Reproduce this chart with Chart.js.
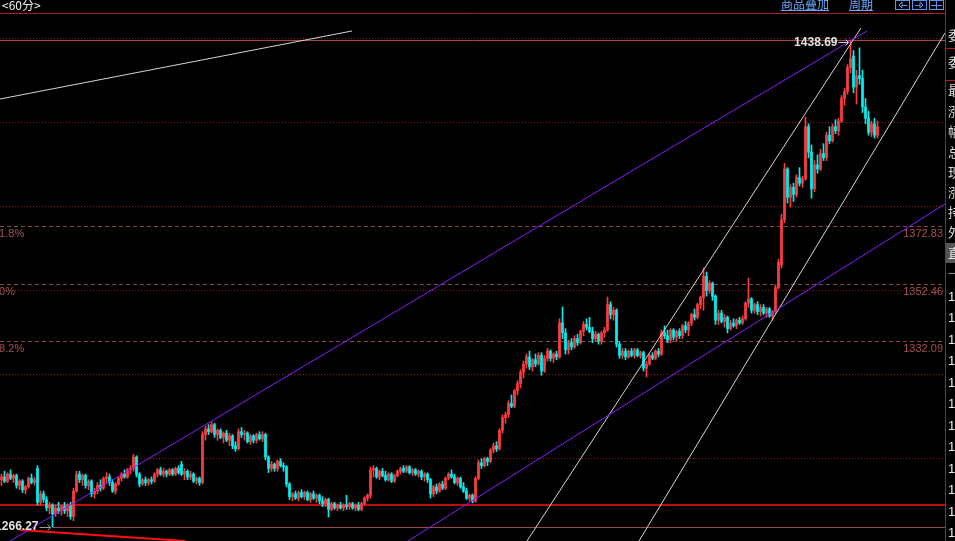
<!DOCTYPE html>
<html><head><meta charset="utf-8">
<script src="https://cdn.jsdelivr.net/npm/chart.js@4.4.0/dist/chart.umd.min.js"></script>
<style>html,body{margin:0;padding:0;background:#000;overflow:hidden}canvas{display:block}</style>
</head><body><canvas id="c" width="955" height="541"></canvas>
<script>
// ---- data (60-minute candles) ----
const opens = [
1283,1284,1282.5,1285,1283.5,1284.5,1281,1282.5,1279.5,1280.5,
1283.5,1282,1287,1275,1278,1276,1273,1274,1271,1273,
1272,1273.5,1272,1274,1270,1279,1285,1283,1284.5,1281,
1282.5,1278,1279,1281,1280,1283.5,1284,1282,1279,1281.5,
1283.5,1285,1284,1286.5,1287,1291,1285,1281.5,1283,1282,
1283,1282.5,1285,1286.5,1285,1286,1285,1286.5,1285,1287,
1288.5,1285,1286,1284,1285,1282.5,1283.5,1282,1299,1301,
1300,1302.5,1299,1300.5,1298,1299.5,1297,1298.5,1295,1294,
1300,1299,1299.5,1296.5,1298.5,1297,1299,1297.5,1299,1291,
1287,1288.5,1287,1289.5,1288,1287.5,1281.5,1277,1278,1276.5,
1278.5,1277,1278.5,1276,1278,1276.5,1277.5,1275.5,1274.5,1276,
1272.5,1274.5,1273,1274,1273,1274,1273.5,1274.5,1273,1274,
1272.5,1274.5,1276.5,1277.5,1286.5,1287,1284,1286,1284.5,1283,
1285,1282.5,1284.5,1286,1287,1286,1287.5,1285.5,1286.5,1285,
1286,1284,1285,1283,1278,1280.5,1279,1281.5,1280,1283.5,
1285,1284,1282,1283.5,1280.5,1279,1276.5,1277.5,1275.5,1283.5,
1289,1288,1290.5,1289.5,1293.5,1295,1294,1300.5,1305,1306,
1310,1309,1314.5,1317,1321,1324,1326.5,1323,1325.5,1324,
1327,1321.5,1326,1328.5,1326,1327.5,1326.5,1338.5,1335,1329,
1331.5,1330,1333,1331.5,1335.5,1338,1337,1335.5,1333,1334.5,
1332,1335,1336,1345,1341.5,1343,1331,1327,1328.5,1326.5,
1328.5,1327,1329,1327,1328,1322.5,1324,1327,1326,1328.5,
1327.5,1335,1334,1332.5,1336,1333.5,1335.5,1334,1337.5,1336,
1338.5,1341.5,1340.5,1345,1347.5,1355,1350,1352.5,1348,1339.5,
1342,1339,1340.5,1336.5,1338.5,1337.5,1339.5,1338.5,1340,1345.5,
1347,1343,1345,1342.5,1344,1342,1343.5,1341,1342.5,1351,
1359,1375,1393,1383,1386.5,1384,1390,1388,1389.5,1408,
1399,1386,1394.5,1393,1398.5,1397,1405,1403,1408,1406.5,
1410,1418,1420.5,1429,1433,1422,1426,1425,1415,1411,
1406,1409,1405];
const highs = [
1285,1286,1285.5,1286.5,1285,1285,1283,1283,1281,1284,
1285,1284,1288,1279,1279,1277,1275,1274.5,1274,1275,
1274,1275,1274.5,1275,1280,1286,1286,1285,1285,1283,
1283,1280,1282,1283,1284,1285.5,1285,1283,1282,1284,
1285.5,1286.5,1287,1288,1292,1291.5,1285.5,1283.5,1284,1283.5,
1284,1285.5,1287,1287.5,1287,1286.5,1287,1287,1287.5,1288,
1289.5,1287,1286.5,1286,1285.5,1284,1284,1300,1302,1302.5,
1303.5,1303,1301,1301,1300,1300.5,1299.5,1299,1296.5,1301,
1301.5,1300.5,1300,1299,1299,1299.5,1300,1300,1299.5,1291.5,
1289.5,1289,1290,1290.5,1289,1288,1282,1278.5,1279,1279,
1279.5,1279,1279,1278.5,1279,1278,1278,1277,1276.5,1276.5,
1275,1275,1274.5,1275,1274.5,1277.5,1275,1275,1274.5,1275,
1275,1277,1278,1287.5,1288,1287.5,1286.5,1287,1286,1285.5,
1285.5,1285,1286.5,1287.5,1288,1288,1288,1287,1287,1286.5,
1286.5,1285.5,1285.5,1283.5,1281,1281.5,1282,1282.5,1284,1285.5,
1286.5,1285,1284,1284,1282,1280,1278,1278,1284,1290,
1290.5,1291,1291,1294,1296,1296.5,1301,1306,1307,1311,
1313,1315,1318,1322,1325,1327.5,1328.5,1326,1327.5,1328,
1328,1327,1329.5,1329,1328,1328.5,1340,1344.2,1336.5,1332.5,
1333,1334,1334.5,1336,1339,1340,1340.5,1337,1335.5,1335,
1335.5,1337,1347.7,1346,1344,1343.5,1332,1329.5,1329.5,1329,
1329.5,1329.5,1329.5,1328.5,1328.5,1325,1327.5,1328,1329,1329.5,
1336,1337.5,1336,1336.5,1336.5,1336,1336.5,1338,1339,1339,
1342,1343.5,1345.5,1348,1358,1356.5,1353.5,1353,1348.5,1343,
1343,1341.5,1341,1339.5,1340,1340,1340.5,1341,1346,1354.4,
1347.5,1345.5,1346,1345,1345,1344,1344,1343,1352,1361,
1377,1395,1393.5,1387.5,1388,1391,1393.5,1390.5,1411.4,1409,
1401.5,1396,1398,1400,1402,1406,1408,1409,1410.5,1411,
1419,1421.5,1430,1438.69,1435,1428,1435.9,1428,1418,1413.5,
1410,1411,1410];
const lows = [
1281,1282,1282,1283,1282,1280,1279.5,1278.5,1278,1280,
1281.5,1281,1274,1274,1275,1272,1271,1266.27,1270,1271,
1270.5,1271,1270,1269,1268.5,1278.5,1282,1281,1280,1279.5,
1277,1276.5,1278,1279,1279.5,1282,1281,1278.5,1278,1281,
1282.5,1283.5,1283.5,1285,1286,1284,1280.5,1281,1281,1281,
1281.5,1282,1284,1284.5,1284,1284,1284.5,1284.5,1284.5,1285,
1284.5,1283,1283,1283,1282,1281.5,1281,1281.5,1297,1299,
1299.5,1298,1297,1297.5,1296,1296.5,1295,1294,1293,1293.5,
1298,1297,1296,1295.5,1296,1296,1297,1296.5,1290,1285.5,
1286,1286,1286,1287.5,1286,1280.5,1276,1275.5,1276,1275.5,
1276.5,1276,1275.5,1275,1276,1275,1274.5,1273.5,1273.5,1269.8,
1272,1272.5,1272,1272.5,1272,1272.5,1272.5,1272.5,1272,1272,
1272,1274,1275.5,1276.5,1284,1283.5,1283,1284,1282.5,1282.5,
1282,1282,1284,1285,1285.5,1285.5,1285,1284.5,1284.5,1284,
1283,1282.5,1282,1276.5,1277,1278,1278.5,1279.5,1279.5,1283,
1283.5,1281.5,1281,1280,1278.5,1276,1275.5,1274.8,1275,1283,
1287,1287.5,1288,1289,1292.5,1293,1293.5,1299.5,1303,1305,
1308.5,1308.5,1313,1315.5,1319,1322.5,1322,1321.5,1323,1323.5,
1320,1321,1325,1325,1324.5,1325.5,1326,1333,1327.5,1327.5,
1329,1329.5,1330.5,1331,1334,1336,1335,1331.5,1332,1331,
1331,1333.5,1335.5,1340,1339.5,1330,1326,1326,1325.5,1326,
1326.5,1326,1326.5,1326,1321.5,1319.4,1323.5,1325.5,1325.5,1326.5,
1327,1333,1331.5,1331.5,1332.5,1332,1333,1333,1335,1334,
1337.5,1339.5,1340,1343.5,1343,1348,1349,1346.5,1338,1338,
1338.5,1337,1335,1336,1337,1336.5,1338,1338,1339.5,1344,
1342,1342,1341.5,1341,1341.5,1340.5,1340.5,1339.5,1342,1350.5,
1358,1374,1381,1379.5,1381.5,1383,1387,1386.5,1389,1397,
1382.7,1385,1391.5,1392.5,1396,1396,1402,1402.5,1405.5,1405,
1409.5,1415.5,1419.5,1427,1420,1416,1423,1413,1409,1405,
1404.5,1404,1404];
const closes = [
1284,1282.5,1285,1283.5,1284.5,1281,1282.5,1279.5,1280.5,1283.5,
1282,1283,1275,1278,1276,1273,1274,1271,1273,1272,
1273.5,1272,1274,1270,1279,1285,1283,1284.5,1281,1282.5,
1278,1279,1281,1280,1283.5,1284,1282,1279,1281.5,1283.5,
1285,1284,1286.5,1287,1291,1285,1281.5,1283,1282,1283,
1282.5,1285,1286.5,1285,1286,1285,1286.5,1285,1287,1285.5,
1285,1286,1284,1285,1282.5,1283.5,1282,1299,1301,1300,
1302.5,1299,1300.5,1298,1299.5,1297,1298.5,1295,1294,1300,
1299,1299.5,1296.5,1298.5,1297,1299,1297.5,1299,1291,1287,
1288.5,1287,1289.5,1288,1287.5,1281.5,1277,1278,1276.5,1278.5,
1277,1278.5,1276,1278,1276.5,1277.5,1275.5,1274.5,1276,1272.5,
1274.5,1273,1274,1273,1274,1273.5,1274.5,1273,1274,1272.5,
1274.5,1276.5,1277.5,1286.5,1287,1284,1286,1284.5,1283,1285,
1282.5,1284.5,1286,1287,1286,1287.5,1285.5,1286.5,1285,1286,
1284,1285,1283,1278,1280.5,1279,1281.5,1280,1283.5,1285,
1284,1282,1283.5,1280.5,1279,1276.5,1277.5,1275.5,1283.5,1289,
1288,1290.5,1289.5,1293.5,1295,1294,1300.5,1305,1306,1310,
1309,1314.5,1317,1321,1324,1326.5,1323,1325.5,1324,1327,
1321.5,1326,1328.5,1326,1327.5,1326.5,1338.5,1335,1329,1331.5,
1330,1333,1331.5,1335.5,1338,1337,1335.5,1333,1334.5,1332,
1335,1336,1345,1341.5,1343,1331,1327,1328.5,1326.5,1328.5,
1327,1329,1327,1328,1322.5,1324,1327,1326,1328.5,1327.5,
1335,1334,1332.5,1336,1333.5,1335.5,1334,1337.5,1336,1338.5,
1341.5,1340.5,1345,1347.5,1355,1350,1352.5,1348,1339.5,1342,
1339,1340.5,1336.5,1338.5,1337.5,1339.5,1338.5,1340,1345.5,1347,
1343,1345,1342.5,1344,1342,1343.5,1341,1342.5,1351,1360,
1375,1393,1383,1386.5,1384,1390,1388,1389.5,1408,1399,
1386,1394.5,1393,1398.5,1397,1405,1403,1408,1406.5,1410,
1418,1420.5,1429,1432,1422,1426,1425,1415,1411,1406,
1409,1405,1408];

// horizontal levels & labels
const highValue = 1438.69, lowValue = 1266.27;
const gridLevels = [1439.40, 1409.66, 1379.92, 1350.18, 1320.44, 1290.70];
const fibLevels = [1372.83, 1352.46, 1332.09];
const fibPctLabels = ['61.8%', '50%', '38.2%'];
const fibValueLabels = ['1372.83', '1352.46', '1332.09'];
const supportLevel = 1274.06;

// drawn trend lines: [barIndex, price] end points
const whiteTopLeft   = [[-0.5, 1417.80], [116.83, 1441.88]];
const purpleUpper    = [[-0.5, 1259.19], [288.5, 1441.88]];
const purpleLower    = [[135.5, 1261.31], [314.5, 1380.63]];
const whiteSteepA    = [[175.17, 1261.31], [286.5, 1442.94]];
const whiteSteepB    = [[212.5, 1261.31], [314.5, 1441.17]];
const redLowLeft     = [[6.17, 1265.21], [61.17, 1261.31]];

// header / side panel text
const periodLabel = '<60分>';
const headerLinks = ['商品叠加', '周期'];
const sideChars = ['委','委','最','涨','幅','总','现','涨','持','外'];
const sideCharY = [35,62,90,111,131,152,172,192,212,232];
const sideTicks = ['1408.0','1407.5','1408.5','1409.0','1408.0','1407.0','1406.5','1408.0','1409.5','1408.5','1407.5','1408.0'];

// ---- build ----
const N = Math.min(opens.length, highs.length, lows.length, closes.length);
const idx = Array.from({length: N}, (_, i) => i);
const UP = '#ff3c3c', DN = '#00f0f0';
const colors = idx.map(i => closes[i] >= opens[i] ? UP : DN);
const wickData = idx.map(i => ({x: i, y: [lows[i], highs[i]]}));
const bodyData = idx.map(i => ({x: i, y: [opens[i], closes[i]]}));
let hiIdx = 0, loIdx = 0;
idx.forEach(i => { if (highs[i] > highs[hiIdx]) hiIdx = i; if (lows[i] < lows[loIdx]) loIdx = i; });

const pts = a => a.map(p => ({x: p[0], y: p[1]}));
const lineDs = (a, color, w) => ({type: 'line', data: pts(a), borderColor: color, borderWidth: w || 1,
  pointRadius: 0, fill: false, tension: 0, order: 0});

function hline(c, x1, x2, y) { c.beginPath(); c.moveTo(x1, y); c.lineTo(x2, y); c.stroke(); }

const decor = {
  id: 'decor',
  beforeDraw(chart) {
    const c = chart.ctx; c.save(); c.fillStyle = '#000'; c.fillRect(0, 0, chart.width, chart.height); c.restore();
  },
  beforeDatasetsDraw(chart) {
    const c = chart.ctx, a = chart.chartArea, y = chart.scales.y, x = chart.scales.x;
    c.save(); c.lineWidth = 1;
    c.strokeStyle = '#8e1a1a'; c.setLineDash([1, 2]);
    gridLevels.forEach(v => hline(c, a.left, a.right, Math.round(y.getPixelForValue(v)) + 0.5));
    c.strokeStyle = '#8a4646'; c.setLineDash([4, 3]);
    fibLevels.forEach(v => hline(c, a.left, a.right, Math.round(y.getPixelForValue(v)) + 0.5));
    c.setLineDash([]);
    c.strokeStyle = '#a64848';
    hline(c, a.left, a.right, Math.round(y.getPixelForValue(highValue)) + 0.5);
    c.strokeStyle = '#9c4848';
    hline(c, x.getPixelForValue(loIdx), a.right, Math.round(y.getPixelForValue(lowValue)) + 0.5);
    c.strokeStyle = '#ff1010'; c.lineWidth = 1.5;
    hline(c, a.left, a.right, Math.round(y.getPixelForValue(supportLevel)));
    c.restore();
  },
  afterDatasetsDraw(chart) {
    const c = chart.ctx, a = chart.chartArea, y = chart.scales.y, x = chart.scales.x;
    c.save();
    // fib labels
    c.font = '11px "Liberation Sans"'; c.fillStyle = '#a65252'; c.textBaseline = 'top';
    fibLevels.forEach((v, k) => {
      const py = Math.round(y.getPixelForValue(v)) + 2;
      c.textAlign = 'left'; c.fillText(fibPctLabels[k], -7, py);
      c.textAlign = 'right'; c.fillText(fibValueLabels[k], a.right - 2, py);
    });
    // high / low marks
    c.font = 'bold 12px "Liberation Sans"'; c.fillStyle = '#e2e2e2'; c.strokeStyle = '#cfcfcf'; c.lineWidth = 1;
    c.textBaseline = 'middle'; c.textAlign = 'right';
    const hx = x.getPixelForValue(hiIdx), hy = Math.round(y.getPixelForValue(highValue)) + 2;
    c.fillText(highValue.toFixed(2), hx - 13, hy + 0.5);
    hline(c, hx - 12, hx - 2, hy + 0.5);
    c.beginPath(); c.moveTo(hx - 5, hy - 2.5); c.lineTo(hx - 2, hy + 0.5); c.lineTo(hx - 5, hy + 3.5); c.stroke();
    const lx = x.getPixelForValue(loIdx), ly = Math.round(y.getPixelForValue(lowValue));
    c.fillText(lowValue.toFixed(2), lx - 14, ly);
    c.strokeStyle = '#9aa0a0';
    hline(c, lx - 13, lx - 2, ly + 0.5);
    c.beginPath(); c.moveTo(lx - 5, ly - 2.5); c.lineTo(lx - 2, ly + 0.5); c.lineTo(lx - 5, ly + 3.5); c.stroke();
    c.restore();
  },
  afterDraw(chart) {
    const c = chart.ctx, W = chart.width, H = chart.height;
    c.save();
    // header
    c.fillStyle = '#000'; c.fillRect(0, 0, W, 13);
    c.strokeStyle = '#b01c1c'; c.lineWidth = 1;
    hline(c, 0, 945, 13.5);
    c.beginPath(); c.moveTo(945.5, 0); c.lineTo(945.5, H); c.stroke();
    c.font = '12px "Noto Sans CJK SC"'; c.textBaseline = 'middle'; c.textAlign = 'left';
    c.fillStyle = '#f0f0f0'; c.fillText(periodLabel, 2, 5);
    c.fillStyle = '#6aa6ff'; c.strokeStyle = '#6aa6ff';
    const lx = [781, 849];
    headerLinks.forEach((t, k) => {
      c.fillText(t, lx[k], 4);
      const w = c.measureText(t).width;
      hline(c, lx[k], lx[k] + w, 10.5);
    });
    // icon buttons
    c.strokeStyle = '#5a96ee'; c.fillStyle = '#5a96ee';
    [895, 912, 929].forEach((bx, k) => {
      c.strokeRect(bx + 0.5, 0.5, 14, 9);
      c.beginPath();
      if (k === 0) { c.moveTo(bx + 4, 5); c.lineTo(bx + 7, 2); c.lineTo(bx + 7, 8); c.closePath(); c.stroke(); hline(c, bx + 7, bx + 12, 5.5); }
      else if (k === 1) { c.moveTo(bx + 11, 5); c.lineTo(bx + 8, 2); c.lineTo(bx + 8, 8); c.closePath(); c.stroke(); hline(c, bx + 3, bx + 8, 5.5); }
      else { hline(c, bx + 2, bx + 13, 5.5); c.beginPath(); c.moveTo(bx + 7.5, 1); c.lineTo(bx + 7.5, 9); c.stroke(); }
    });
    // side panel (cut off)
    c.font = '13px "Noto Sans CJK SC"'; c.fillStyle = '#dcdcdc'; c.textBaseline = 'middle';
    sideChars.forEach((t, k) => c.fillText(t, 948, sideCharY[k]));
    c.strokeStyle = '#b01c1c';
    hline(c, 946, W, 48.5); hline(c, 946, W, 80.5);
    c.fillStyle = '#555'; c.fillRect(946, 243, W - 946, 20);
    c.fillStyle = '#e8e8e8'; c.fillText('直', 948, 253);
    c.fillStyle = '#888'; c.fillText('一', 948, 273);
    c.font = '13px "Liberation Sans"'; c.fillStyle = '#e8e8e8';
    sideTicks.forEach((t, k) => c.fillText(t, 948, 297 + k * 21.5));
    c.restore();
  }
};

new Chart(document.getElementById('c'), {
  type: 'bar',
  data: {
    datasets: [
      lineDs(whiteTopLeft, '#d4d4d4'),
      lineDs(purpleUpper, '#8a1cff'),
      lineDs(purpleLower, '#8a1cff'),
      lineDs(whiteSteepA, '#d4d4d4'),
      lineDs(whiteSteepB, '#d4d4d4'),
      lineDs(redLowLeft, '#ff1010', 2),
      {type: 'bar', data: bodyData, backgroundColor: colors, barThickness: 2, grouped: false, minBarLength: 1, order: 1},
      {type: 'bar', data: wickData, backgroundColor: colors, barThickness: 1, grouped: false, order: 2}
    ]
  },
  options: {
    responsive: false, animation: false, devicePixelRatio: 1, events: [],
    layout: {padding: {top: 13, right: 10, left: 0, bottom: 0}},
    plugins: {legend: {display: false}, tooltip: {enabled: false}},
    scales: {
      x: {type: 'linear', min: -0.5, max: 314.5, display: false, offset: false},
      y: {min: 1261.314, max: 1448.249, display: false}
    }
  },
  plugins: [decor]
});
</script></body></html>
